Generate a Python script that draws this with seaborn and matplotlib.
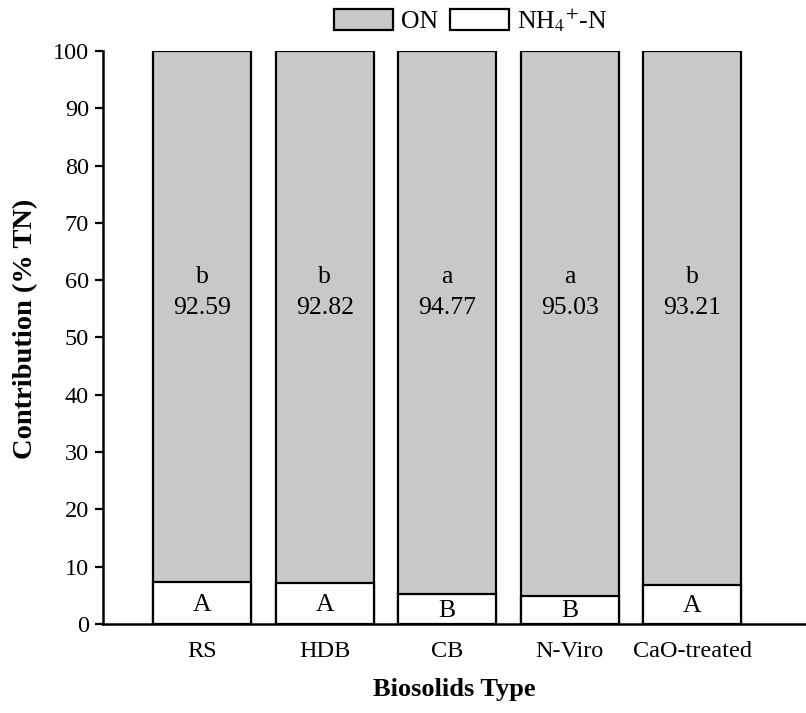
import matplotlib
matplotlib.use("Agg")
import matplotlib.pyplot as plt
import seaborn as sns
import pandas as pd
from matplotlib.patches import Patch

sns.set_theme(style="ticks")
plt.rcParams["font.family"] = ["Liberation Serif", "DejaVu Serif"]
plt.rcParams["mathtext.fontset"] = "stix"
plt.rcParams["text.color"] = "black"
plt.rcParams["axes.labelcolor"] = "black"
plt.rcParams["xtick.color"] = "black"
plt.rcParams["ytick.color"] = "black"

biosolids = ["RS", "HDB", "CB", "N-Viro", "CaO-treated"]
on_pct = [92.59, 92.82, 94.77, 95.03, 93.21]
nh4_pct = [7.41, 7.18, 5.23, 4.97, 6.79]
on_letters = ["b", "b", "a", "a", "b"]
nh4_letters = ["A", "A", "B", "B", "A"]
yticks = [0, 10, 20, 30, 40, 50, 60, 70, 80, 90, 100]

df = pd.DataFrame({"Type": biosolids, "ON": on_pct, "NH4": nh4_pct})
df["Total"] = df["ON"] + df["NH4"]

fig = plt.figure(figsize=(8.06, 7.13), dpi=100)
ax = fig.add_axes([0.1278, 0.1248, 0.8722, 0.8037])

# total height drawn in grey, ammonium part overlaid in white at the base
sns.barplot(data=df, x="Type", y="Total", color="#c8c8c8", edgecolor="black",
            linewidth=1.6, width=0.8, saturation=1, ax=ax)
sns.barplot(data=df, x="Type", y="NH4", color="white", edgecolor="black",
            linewidth=1.6, width=0.8, saturation=1, ax=ax)

fs = 18.5
for i in range(len(biosolids)):
    ax.text(i, 60.6, on_letters[i], ha="center", va="center", fontsize=fs)
    ax.text(i, 55.2, f"{on_pct[i]:.2f}", ha="center", va="center", fontsize=fs)
    ax.text(i, nh4_pct[i] / 2 - 0.3, nh4_letters[i], ha="center", va="center", fontsize=fs)

ax.set_ylim(0, 100)
ax.set_xlim(-0.81, 4.93)
ax.set_yticks(yticks)
ax.tick_params(axis="y", length=6, width=1.6, labelsize=17.5, direction="out", pad=4)
ax.tick_params(axis="x", length=0, labelsize=17.5, pad=12)
for s in ["top", "right"]:
    ax.spines[s].set_visible(False)
for s in ["left", "bottom"]:
    ax.spines[s].set_linewidth(1.8)
    ax.spines[s].set_color("black")

ax.set_xlabel("Biosolids Type", fontsize=19, fontweight="bold", labelpad=12)
ax.set_ylabel("Contribution (% TN)", fontsize=20.5, fontweight="bold")
ax.yaxis.set_label_coords(-0.092, 0.515)

handles = [Patch(facecolor="#c8c8c8", edgecolor="black", linewidth=1.6),
           Patch(facecolor="white", edgecolor="black", linewidth=1.6)]
fig.legend(handles, ["ON", r"NH$_4$$^{+}$-N"], loc="center", bbox_to_anchor=(0.584, 0.972),
           ncol=2, frameon=False, fontsize=18.5, handlelength=2.3, handleheight=0.9,
           handletextpad=0.3, columnspacing=0.45, borderpad=0.1)

fig.savefig("out.png", dpi=100)
